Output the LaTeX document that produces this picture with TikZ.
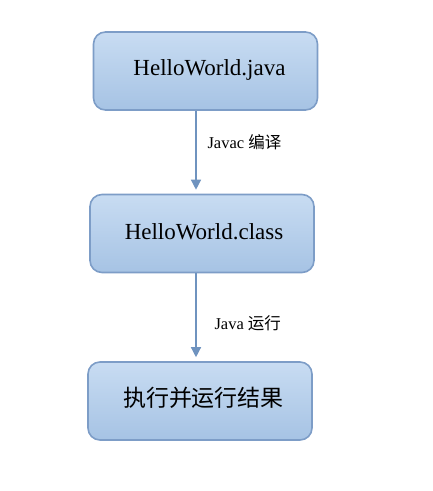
\documentclass[tikz,border=0pt]{standalone}
\usepackage{fontspec}
\setmainfont{Liberation Serif}
\newfontfamily\cjk{Noto Sans CJK SC}
\usetikzlibrary{arrows.meta}
\definecolor{boxtop}{HTML}{C8DCF2}
\definecolor{boxbot}{HTML}{A6C3E4}
\definecolor{boxline}{HTML}{7D9DC7}
\definecolor{arrline}{HTML}{6F93BF}
\begin{document}
\begin{tikzpicture}[x=1pt,y=-1pt,
    stage/.style={draw=boxline,line width=1.6pt,rounded corners=12pt,
      top color=boxtop,bottom color=boxbot,
      minimum width=224pt,minimum height=78pt,inner sep=0pt},
    flow/.style={draw=arrline,line width=1.3pt,shorten >=4pt,
      -{Triangle[width=10pt,length=10pt]}},
    note/.style={anchor=west,font=\fontsize{16.5}{19}\selectfont}]%
     \useasboundingbox (0,0) rectangle (432,491);
     \node[stage] at (205.5,71) (java) {};
     \node[stage] at (202,233.5) (class) {};
     \node[stage] at (200,401) (run) {};
     % box texts
     \node at (209.5,70) (tjava) {\fontsize{23}{27}\selectfont HelloWorld.java};
     \node at (204,232) (tclass) {\fontsize{23}{27}\selectfont HelloWorld.class};
     \node at (203.5,398) (trun) {\fontsize{23}{28}\selectfont\cjk 执行并运行结果};

     \coordinate (c1) at (196,0);
     \draw[flow] (java.south -| c1) -- (class.north -| c1);
     \node[note] at (204,142) (l1) {Javac {\cjk 编译}};

     \draw[flow] (class.south -| c1) -- (run.north -| c1);
     \node[note] at (211,323) (l2) {Java {\cjk 运行}};
\end{tikzpicture}
\end{document}
